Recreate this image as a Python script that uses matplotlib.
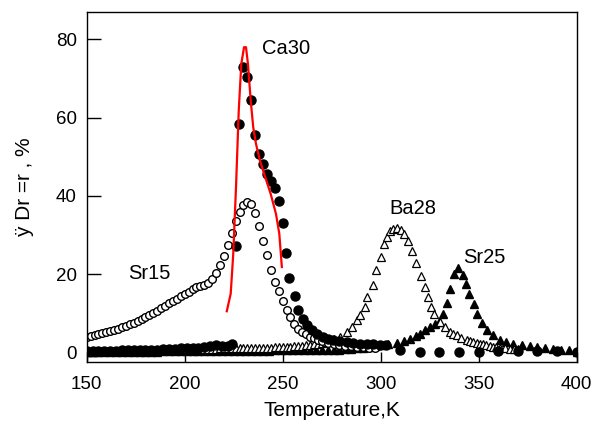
import matplotlib
matplotlib.use("Agg")
import matplotlib.pyplot as plt

plt.rcParams['font.family'] = ['Liberation Sans', 'DejaVu Sans']

# Sr15 - open circles
sr15_t = [150, 152, 154, 156, 158, 160, 162, 164, 166, 168, 170, 172, 174, 176, 178,
          180, 182, 184, 186, 188, 190, 192, 194, 196, 198, 200, 202, 204, 206, 208,
          210, 212, 214, 216, 218, 220, 222, 224, 226, 228, 230, 232, 234, 236, 238,
          240, 242, 244, 246, 248, 250, 252, 254, 256, 258, 260, 262, 264, 266, 268,
          270, 273, 276, 279, 282, 285, 288, 291, 294, 297]
sr15_v = [4.0, 4.2, 4.4, 4.7, 4.9, 5.1, 5.4, 5.7, 6.0, 6.4, 6.8, 7.2, 7.6, 8.0, 8.5,
          9.0, 9.5, 10.0, 10.6, 11.2, 11.8, 12.5, 13.1, 13.7, 14.3, 14.9, 15.5, 16.1, 16.6, 16.9,
          17.2, 17.8, 18.8, 20.2, 22.2, 24.5, 27.5, 30.5, 33.5, 35.8, 37.6, 38.4, 37.8, 35.5, 32.4,
          28.5, 24.8, 21.0, 18.0, 15.6, 13.0, 10.8, 9.0, 7.3, 6.0, 5.1, 4.6, 4.0, 3.6, 3.2,
          2.9, 2.5, 2.1, 1.8, 1.6, 1.5, 1.4, 1.3, 1.2, 1.1]

# Ca30 - filled circles
ca30_t = [150, 153, 156, 159, 162, 165, 168, 171, 174, 177, 180, 183, 186, 189, 192,
          195, 198, 201, 204, 207, 210, 213, 216, 219, 222, 224,
          226.2, 227.9, 229.6, 231.9, 234.0, 236.0, 237.7, 240.1, 242.1, 243.9, 245.9,
          248.0, 250.0, 251.7, 253.4, 256.1, 257.8, 260.2, 262.2, 264.8, 267.3, 270.7,
          273.0, 275.8, 279.0, 282.7, 286.0, 289.4, 293.0, 296.2, 299.5, 303.0,
          310, 320, 330, 340, 350, 360, 370, 380, 390, 400]
ca30_v = [0.3, 0.3, 0.3, 0.4, 0.4, 0.4, 0.5, 0.5, 0.5, 0.6, 0.6, 0.7, 0.7, 0.8, 0.8,
          0.9, 1.0, 1.0, 1.1, 1.2, 1.4, 1.6, 1.8, 1.7, 1.6, 2.2,
          27.3, 58.4, 73.0, 70.5, 64.4, 55.6, 50.8, 48.2, 45.6, 43.9, 42.1,
          38.6, 33.0, 25.4, 19.1, 14.3, 10.7, 8.6, 6.9, 5.6, 4.8, 3.9,
          3.5, 3.2, 2.9, 2.6, 2.4, 2.2, 2.1, 2.0, 1.9, 1.8,
          0.6, 0.2, 0.2, 0.2, 0.2, 0.3, 0.3, 0.3, 0.3, 0.2]

# Ba28 - open triangles
ba28_t = [150, 152, 154, 156, 158, 160, 162, 164, 166, 168, 170, 172, 174, 176, 178,
          180, 182, 184, 186, 188, 190, 192, 194, 196, 198, 200, 202, 204, 206, 208,
          210, 212, 214, 216, 218, 220, 222, 224, 226, 228, 230, 232, 234, 236, 238,
          240, 242, 244, 246, 248, 250, 252, 254, 256, 258, 260, 262, 264, 266, 268,
          270, 272, 274, 276, 279.2, 282.7, 285.2, 287.8, 289.4, 292.0, 293.2, 296.2,
          297.6, 300.0, 301.7, 303.4, 304.7, 306.4, 308.2, 310.2, 311.9, 313.9, 316.0,
          318.0, 320.5, 322.5, 324.0, 325.5, 327.5, 330.3, 332.8, 335.4, 337.0, 338.8,
          341.0, 343.9, 345.5, 347.0, 349.0, 350.7, 352.5, 354.0, 356.0, 357.4, 359.0,
          361.0, 363.5, 366.0, 368.0, 370.0]
ba28_v = [0.2, 0.2, 0.2, 0.3, 0.3, 0.3, 0.3, 0.4, 0.4, 0.4, 0.4, 0.5, 0.5, 0.5, 0.5,
          0.5, 0.6, 0.6, 0.6, 0.6, 0.7, 0.7, 0.7, 0.7, 0.8, 0.8, 0.8, 0.8, 0.8, 0.9,
          0.9, 0.9, 0.9, 0.9, 1.0, 1.0, 1.0, 1.0, 1.0, 1.1, 1.1, 1.1, 1.1, 1.1, 1.2,
          1.2, 1.2, 1.2, 1.3, 1.3, 1.3, 1.4, 1.4, 1.5, 1.6, 1.7, 1.8, 1.9, 2.0, 2.2,
          2.4, 2.7, 3.0, 3.4, 3.9, 5.2, 6.5, 8.2, 9.5, 11.6, 14.1, 17.1,
          21.1, 24.3, 27.8, 29.6, 30.9, 31.6, 31.7, 31.3, 30.3, 28.4, 25.9,
          22.8, 19.4, 16.8, 14.1, 11.7, 9.9, 7.7, 6.5, 5.2, 4.7, 4.3,
          3.7, 3.2, 3.0, 2.7, 2.4, 2.2, 2.0, 1.8, 1.6, 1.4, 1.3,
          1.2, 1.0, 0.9, 0.8, 0.8]

# Sr25 - filled triangles
sr25_t = [150, 153, 156, 159, 162, 165, 168, 171, 174, 177, 180, 183, 186, 189, 192,
          195, 198, 201, 204, 207, 210, 213, 216, 219, 222, 225, 228, 231, 234, 237,
          240, 243, 246, 249, 252, 255, 258, 261, 264, 267, 270, 273, 276, 279, 282,
          285, 288, 291, 294, 297, 299.6, 304.0, 308.2, 312.0, 315.0, 318.0, 320.0,
          322.5, 325.2, 328.0, 329.9, 332.0, 333.7, 335.4, 337.4, 339.6, 341.8, 343.5,
          345.2, 347.6, 349.3, 351.5, 354.1, 357.4, 360.9, 364.0, 367.7, 372.0, 376.2,
          380.0, 384.0, 388.0, 392.0, 396.0, 400.0]
sr25_v = [0.1, 0.1, 0.1, 0.1, 0.1, 0.2, 0.2, 0.2, 0.2, 0.2, 0.2, 0.2, 0.2, 0.3, 0.3,
          0.3, 0.3, 0.3, 0.3, 0.3, 0.3, 0.3, 0.3, 0.3, 0.4, 0.4, 0.4, 0.4, 0.4, 0.4,
          0.4, 0.4, 0.5, 0.5, 0.5, 0.5, 0.5, 0.5, 0.5, 0.6, 0.6, 0.6, 0.7, 0.7, 0.8,
          0.9, 1.0, 1.1, 1.3, 1.5, 1.8, 2.1, 2.4, 3.0, 3.5, 4.2, 4.8,
          5.6, 6.5, 7.3, 7.7, 9.9, 12.6, 16.3, 20.1, 21.6, 19.7, 17.4,
          15.0, 12.4, 9.9, 7.5, 5.6, 4.3, 3.2, 2.6, 2.2, 1.8, 1.5,
          1.3, 1.1, 0.9, 0.7, 0.5, 0.1]

# Ca30 - fitted curve (red)
fit_t = [221.5, 223.5, 224.8, 226.2, 227.6, 228.9, 230.3, 231.3, 232.3, 233.7, 235.0,
         236.4, 238.4, 241.1, 243.9, 246.6, 248.3, 249.6]
fit_v = [10.5, 15.0, 25.2, 42.2, 61.8, 73.7, 78.0, 78.0, 73.7, 64.4, 57.5,
         53.3, 49.0, 44.8, 40.5, 35.4, 30.3, 21.8]

x_ticks = [150, 200, 250, 300, 350, 400]
y_ticks = [0, 20, 40, 60, 80]

fig = plt.figure(figsize=(5.95, 4.28), dpi=100)
ax = fig.add_axes([0.1457, 0.154, 0.8233, 0.818])

ax.plot(sr25_t, sr25_v, linestyle='none', marker='^', ms=6, color='black')
ax.plot(ba28_t, ba28_v, linestyle='none', marker='^', ms=6, mfc='white', mec='black', mew=0.9)
ax.plot(sr15_t, sr15_v, linestyle='none', marker='o', ms=5.5, mfc='white', mec='black', mew=1.0)
ax.plot(ca30_t, ca30_v, linestyle='none', marker='o', ms=6.5, color='black')
ax.plot(fit_t, fit_v, color='red', linewidth=1.6, zorder=5)

ax.text(239.5, 77.6, 'Ca30', fontsize=14.5, va='center')
ax.text(171, 20.2, 'Sr15', fontsize=14.5, va='center')
ax.text(304.7, 36.8, 'Ba28', fontsize=14.5, va='center')
ax.text(342, 24.3, 'Sr25', fontsize=14.5, va='center')

ax.set_xlim(150, 400)
ax.set_ylim(-2.5, 87)
ax.set_xticks(x_ticks)
ax.set_yticks(y_ticks)
ax.tick_params(axis='both', direction='in', labelsize=13.5, width=1)
ax.tick_params(axis='x', length=7, pad=10)
ax.tick_params(axis='y', length=10, pad=7)
for s in ax.spines.values():
    s.set_linewidth(1)

ax.set_xlabel('Temperature,K', fontsize=15, labelpad=6)
ax.set_ylabel('ÿ Dr =r , %', fontsize=15, labelpad=16)

fig.savefig('out.png', dpi=100)
